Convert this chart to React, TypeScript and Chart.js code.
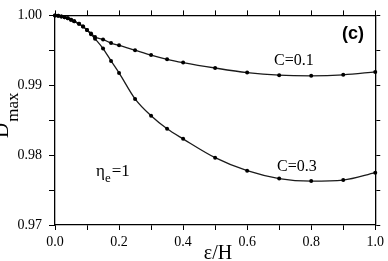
import React, { useEffect, useRef } from "react";
import { Chart, registerables } from "chart.js";

Chart.register(...registerables);

// ε/H values (shared by both series)
const xValues = [0, 0.01, 0.02, 0.03, 0.04, 0.05, 0.06, 0.075, 0.0875, 0.1, 0.1125, 0.125, 0.15, 0.175, 0.2, 0.25, 0.3, 0.35, 0.4, 0.5, 0.6, 0.7, 0.8, 0.9, 1.0];
// Dmax for C = 0.1
const dmaxC01 = [1.0, 0.99994, 0.99986, 0.99972, 0.99958, 0.99939, 0.99916, 0.99879, 0.9984, 0.9979, 0.9974, 0.9969, 0.99656, 0.99604, 0.99572, 0.99502, 0.99432, 0.99372, 0.99325, 0.99247, 0.99181, 0.99144, 0.99135, 0.99149, 0.99191];
// Dmax for C = 0.3
const dmaxC03 = [1.0, 0.99994, 0.99986, 0.99972, 0.99958, 0.99939, 0.99916, 0.99879, 0.9984, 0.9979, 0.9973, 0.99665, 0.99526, 0.99349, 0.99177, 0.98805, 0.98563, 0.98377, 0.98233, 0.97964, 0.97777, 0.97665, 0.97629, 0.97643, 0.97749];

const xTickLabels = ["0.0", "0.2", "0.4", "0.6", "0.8", "1.0"];
const yTickLabels = ["0.97", "0.98", "0.99", "1.00"];

const SERIF = "'Liberation Serif', 'Times New Roman', serif";
const SANS = "'Liberation Sans', Arial, sans-serif";

Chart.defaults.font.family = SERIF;
Chart.defaults.color = "#000";

export default function App() {
  const ref = useRef<HTMLCanvasElement | null>(null);

  useEffect(() => {
    const canvas = ref.current;
    if (!canvas) return;

    const textPlugin = {
      id: "texts",
      afterDraw(chart: any) {
        const ctx = chart.ctx as CanvasRenderingContext2D;
        ctx.save();
        ctx.fillStyle = "#000";
        ctx.textBaseline = "alphabetic";
        ctx.textAlign = "left";

        // x title
        ctx.font = `20px ${SERIF}`;
        ctx.textAlign = "center";
        ctx.fillText("ε/H", 218, 259);

        // y title rotated
        ctx.save();
        ctx.translate(8, 138);
        ctx.rotate(-Math.PI / 2);
        ctx.textAlign = "left";
        ctx.font = `21px ${SERIF}`;
        ctx.fillText("D", 0, 0);
        const dw = ctx.measureText("D").width;
        ctx.font = `17px ${SERIF}`;
        ctx.fillText("max", dw + 1, 10);
        ctx.restore();

        // (c)
        ctx.textAlign = "left";
        ctx.font = `bold 18px ${SANS}`;
        ctx.fillText("(c)", 342, 39);

        // annotations
        ctx.font = `16px ${SERIF}`;
        ctx.fillText("C=0.1", 274, 65);
        ctx.fillText("C=0.3", 277, 170.5);

        // eta_e = 1
        ctx.font = `17px ${SERIF}`;
        ctx.fillText("η", 96, 176);
        const ew = ctx.measureText("η").width;
        ctx.font = `13px ${SERIF}`;
        ctx.fillText("e", 96 + ew, 182);
        const sw = ctx.measureText("e").width;
        ctx.font = `17px ${SERIF}`;
        ctx.fillText("=1", 96 + ew + sw + 1, 176);

        ctx.restore();
      },
    };

    const mkData = (ys: number[]) => xValues.map((x, i) => ({ x, y: ys[i] }));

    const common = {
      borderColor: "#1a1a1a",
      backgroundColor: "#000",
      borderWidth: 1.3,
      pointRadius: 2,
      pointBorderWidth: 0,
      pointBackgroundColor: "#000",
      cubicInterpolationMode: "monotone" as const,
      clip: false as any,
      showLine: true,
    };

    const gridCommon = {
      drawOnChartArea: false,
      drawTicks: true,
      tickColor: "#000",
      tickWidth: 1,
    };
    const borderCommon = { display: true, color: "#000", width: 1.3 };

    const chart = new Chart(canvas, {
      type: "scatter",
      data: {
        datasets: [
          { label: "C=0.1", data: mkData(dmaxC01), ...common },
          { label: "C=0.3", data: mkData(dmaxC03), ...common },
        ],
      },
      options: {
        responsive: false,
        animation: false,
        layout: { padding: 0 },
        plugins: { legend: { display: false }, tooltip: { enabled: false }, title: { display: false } },
        scales: {
          x: {
            type: "linear",
            position: "bottom",
            min: 0,
            max: 1,
            grid: { ...gridCommon, tickLength: 5 },
            border: borderCommon,
            ticks: {
              stepSize: 0.1,
              padding: 4,
              color: "#000",
              maxRotation: 0,
              autoSkip: false,
              font: { family: SERIF, size: 14 },
              callback: (v: any) => {
                const k = Math.round(Number(v) * 10);
                return k % 2 === 0 ? xTickLabels[k / 2] : "";
              },
            },
            afterFit: (s: any) => {
              s.height = 36;
            },
          },
          x2: {
            type: "linear",
            position: "top",
            min: 0,
            max: 1,
            grid: { ...gridCommon, tickLength: 5 },
            border: borderCommon,
            ticks: { stepSize: 0.1, autoSkip: false, callback: () => "" },
            afterFit: (s: any) => {
              s.height = 9;
            },
          },
          y: {
            type: "linear",
            position: "left",
            min: 0.97,
            max: 1.0,
            grid: { ...gridCommon, tickLength: 6 },
            border: borderCommon,
            ticks: {
              stepSize: 0.005,
              padding: 7,
              color: "#000",
              autoSkip: false,
              font: { family: SERIF, size: 14 },
              callback: (v: any) => {
                const k = Math.round((Number(v) - 0.97) * 200);
                return k % 2 === 0 ? yTickLabels[k / 2] : "";
              },
            },
            afterFit: (s: any) => {
              s.width = 55;
            },
          },
          y2: {
            type: "linear",
            position: "right",
            min: 0.97,
            max: 1.0,
            grid: { ...gridCommon, tickLength: 5 },
            border: borderCommon,
            ticks: { stepSize: 0.005, autoSkip: false, callback: () => "" },
            afterFit: (s: any) => {
              s.width = 9;
            },
          },
        },
      },
      plugins: [textPlugin],
    } as any);

    return () => chart.destroy();
  }, []);

  return (
    <div style={{ position: "absolute", left: 0, top: 0, width: 388, height: 261, background: "#fff" }}>
      <canvas ref={ref} width={388} height={261} style={{ display: "block", width: 388, height: 261 }} />
    </div>
  );
}
